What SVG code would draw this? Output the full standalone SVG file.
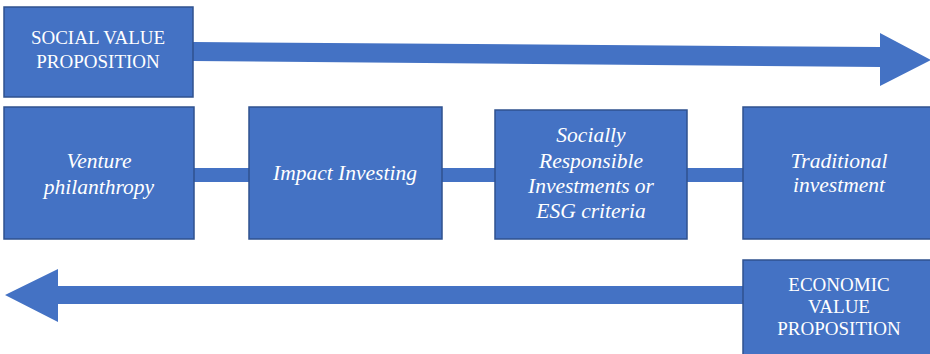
<svg xmlns="http://www.w3.org/2000/svg" width="930" height="354" viewBox="0 0 930 354">
<style>
.box{fill:#4472C4;stroke:#2F528F;stroke-width:1.5}
.bar{fill:#4472C4}
.cap{font-family:'Liberation Serif','Times New Roman','DejaVu Serif',serif;font-size:19px;fill:#fff;text-anchor:middle}
.it{font-family:'Liberation Serif','Times New Roman','DejaVu Serif',serif;font-size:21.5px;font-style:italic;fill:#fff;text-anchor:middle}
</style>
<rect width="930" height="354" fill="#fff"/>
<g id="connectors">
<polygon class="bar" points="193,42 880,47 880,33 931,60 880,86 880,67 193,61"/>
<rect class="bar" x="194" y="168" width="550" height="14"/>
<polygon class="bar" points="744,286 58,286 58,269 5,295 58,322 58,304 744,304"/>
</g>
<g id="social">
<rect class="box" x="4" y="7" width="189" height="90"/>
<text class="cap" x="98" y="44">SOCIAL VALUE</text>
<text class="cap" x="98" y="68">PROPOSITION</text>
</g>
<g id="venture">
<rect class="box" x="4" y="107" width="190" height="132"/>
<text class="it" x="99" y="168">Venture</text>
<text class="it" x="99" y="194">philanthropy</text>
</g>
<g id="impact">
<rect class="box" x="249" y="107" width="193" height="132"/>
<text class="it" x="345" y="180">Impact Investing</text>
</g>
<g id="sri">
<rect class="box" x="495" y="110" width="192" height="129"/>
<text class="it" x="591" y="142">Socially</text>
<text class="it" x="591" y="168">Responsible</text>
<text class="it" x="591" y="193">Investments or</text>
<text class="it" x="591" y="218">ESG criteria</text>
</g>
<g id="traditional">
<rect class="box" x="743" y="107" width="200" height="132"/>
<text class="it" x="839" y="168">Traditional</text>
<text class="it" x="839" y="192">investment</text>
</g>
<g id="economic">
<rect class="box" x="743" y="260" width="200" height="100"/>
<text class="cap" x="839" y="291">ECONOMIC</text>
<text class="cap" x="839" y="313">VALUE</text>
<text class="cap" x="839" y="335">PROPOSITION</text>
</g>
</svg>
